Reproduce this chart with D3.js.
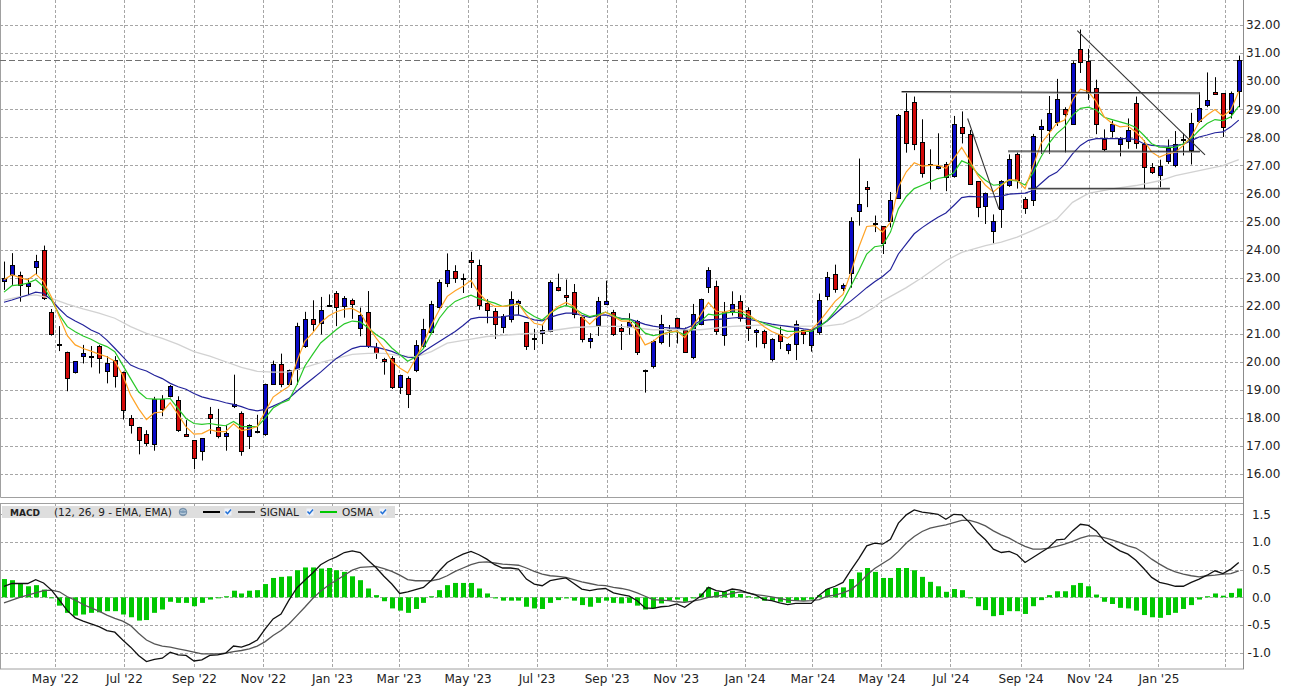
<!DOCTYPE html>
<meta charset="utf-8">
<html>
<head>
<script src="https://cdn.jsdelivr.net/npm/d3@7"></script>
<style>
  body { margin: 0; background: #fff; }
  svg { display: block; font-family: "DejaVu Sans", Verdana, sans-serif; }
</style>
</head>
<body>
<svg id="chart" width="1289" height="694"></svg>
<script>
// weekly bars, first bar week of 17 Mar 2022
var startDate = new Date(2022, 2, 17);

var opens = [22.86,23.10,23.10,22.68,23.37,23.99,21.79,20.62,20.36,19.64,
  20.20,20.18,20.56,19.67,20.06,19.65,18.00,17.68,17.44,17.06,
  18.67,18.77,18.63,17.44,17.20,16.81,18.14,17.69,17.38,18.43,
  18.17,17.33,17.50,17.45,19.22,19.93,19.20,19.72,20.59,21.54,
  21.36,21.99,22.44,22.01,22.19,21.17,21.78,20.52,20.10,20.14,
  19.12,19.42,19.72,20.58,21.08,21.95,22.81,23.25,22.92,23.64,
  23.46,22.11,21.82,21.24,21.52,22.07,21.40,20.81,21.05,21.08,
  22.65,22.39,22.47,21.61,20.71,21.31,22.05,21.78,21.22,21.22,
  21.46,19.67,19.86,20.72,21.18,21.57,21.14,20.16,21.37,22.68,
  22.71,20.96,21.79,22.17,21.85,21.06,21.10,20.10,20.98,20.42,
  20.63,21.14,20.60,21.06,22.32,23.12,22.62,23.18,25.37,26.22,
  24.95,24.83,25.03,25.85,28.92,29.27,27.82,27.06,26.91,27.06,
  26.61,28.35,28.10,26.43,25.55,24.65,25.42,26.29,27.39,25.81,
  25.75,28.31,28.25,28.53,29.00,28.49,31.15,30.73,29.77,27.95,
  28.22,27.75,27.87,29.21,27.77,26.93,26.63,27.15,27.02,27.92,
  27.53,28.55,29.15,29.63,29.57,28.87,29.63];

var highs = [23.57,23.87,23.21,22.98,23.81,24.14,21.88,21.27,20.36,20.02,
  20.60,20.56,20.60,20.20,20.20,19.65,18.10,17.68,17.56,18.75,
  18.81,19.17,18.77,17.92,17.20,17.27,18.39,18.32,17.75,19.54,
  18.23,17.77,18.11,19.22,20.04,20.29,19.72,21.39,21.78,22.19,
  22.31,22.40,22.52,22.34,22.25,21.93,22.52,20.67,20.14,20.20,
  19.54,19.48,20.77,21.53,22.17,22.93,23.86,23.44,23.14,23.92,
  23.64,22.23,21.91,21.70,22.51,22.21,21.40,21.17,21.31,22.90,
  23.14,22.93,22.77,21.61,21.02,22.31,22.89,21.85,21.34,21.73,
  21.49,19.72,20.78,21.67,21.31,21.57,21.22,22.06,22.25,23.37,
  22.89,22.13,22.51,22.37,21.94,21.17,21.14,20.84,21.26,20.66,
  21.47,21.14,21.17,22.43,23.20,23.46,22.79,25.15,27.24,26.44,
  25.21,24.83,26.05,28.83,29.57,29.45,28.64,27.57,28.14,27.12,
  28.76,28.92,28.26,26.43,26.03,25.25,26.47,27.39,27.46,25.87,
  28.12,28.63,29.47,30.08,29.07,30.71,31.84,31.15,30.05,28.28,
  28.59,28.01,28.67,29.45,27.89,27.08,27.20,27.92,28.22,28.13,
  28.87,29.59,30.31,30.14,29.57,29.63,30.91];

var lows = [22.56,22.74,22.14,22.38,23.10,22.20,20.93,20.38,18.95,19.58,
  19.94,19.80,19.58,19.23,19.08,17.94,17.44,16.70,17.00,16.83,
  18.06,18.73,17.50,17.36,16.17,16.48,17.43,17.27,16.83,18.35,
  16.65,16.89,17.45,17.36,19.18,19.09,19.15,19.18,20.49,21.09,
  20.97,21.95,21.27,21.57,21.53,20.91,20.49,20.10,19.54,19.03,
  18.85,18.35,19.63,20.48,21.02,21.89,22.66,22.81,22.45,22.63,
  21.85,21.37,20.81,21.02,21.40,21.67,20.42,20.42,20.63,21.05,
  22.51,22.00,21.55,20.69,20.48,20.92,22.03,20.92,20.42,20.96,
  20.24,18.90,19.76,20.62,20.53,20.65,20.36,20.09,21.30,22.45,
  20.96,20.57,21.65,21.43,20.74,20.51,20.48,20.01,20.45,20.27,
  20.06,20.63,20.36,20.96,22.19,22.46,22.52,22.64,24.85,25.51,
  24.62,23.84,24.79,25.81,27.45,27.54,26.56,26.14,26.85,26.08,
  26.56,27.78,26.31,25.15,24.91,24.22,24.77,26.23,26.17,25.27,
  25.55,27.41,27.41,28.40,27.45,28.47,30.29,29.33,28.11,27.51,
  27.99,27.32,27.59,27.59,26.16,26.69,26.22,27.05,26.93,27.35,
  27.03,28.51,29.07,29.55,28.01,28.67,29.07];

var closes = [22.98,23.45,22.74,22.80,23.60,22.29,21.01,20.65,19.43,20.02,
  20.32,20.22,20.15,19.96,19.49,18.30,17.76,17.20,17.12,18.67,
  18.33,19.14,17.55,17.36,16.55,17.27,17.98,17.36,17.47,18.50,
  16.82,17.73,17.55,19.22,19.93,19.22,19.69,21.27,21.54,21.36,
  21.83,22.01,21.95,22.28,22.05,21.65,20.58,20.31,20.02,19.10,
  19.54,18.86,20.61,21.17,22.07,22.84,23.28,23.01,22.97,23.56,
  22.03,21.85,21.37,21.64,22.25,22.15,20.56,20.86,21.14,22.83,
  22.54,22.32,21.67,20.81,20.83,22.17,22.15,20.99,21.10,21.40,
  20.35,19.72,20.74,21.35,21.14,21.26,20.36,21.71,22.25,23.28,
  21.10,21.79,22.07,21.55,21.22,21.14,20.68,20.82,20.74,20.63,
  21.35,20.99,21.17,22.21,23.01,22.58,22.74,25.03,25.63,26.16,
  24.90,24.23,25.77,28.80,27.78,27.78,26.71,27.01,26.97,26.59,
  28.47,28.14,26.32,25.49,26.03,25.00,26.43,27.21,26.47,25.49,
  28.03,28.40,28.85,29.35,28.83,30.65,30.68,29.59,28.49,27.59,
  28.46,27.92,28.25,27.77,26.96,26.75,26.96,27.62,27.77,27.87,
  28.49,29.03,29.33,29.57,28.35,29.59,30.74];

// moving averages
var maOrange = [22.92,23.10,23.00,22.92,23.13,22.86,22.30,21.60,20.93,20.60,
  20.47,20.38,20.27,20.18,20.02,19.52,18.81,18.33,17.94,18.18,
  18.21,18.54,18.12,17.68,17.42,17.44,17.58,17.51,17.51,17.79,
  17.55,17.60,17.69,18.23,18.74,18.94,19.12,20.02,20.73,21.03,
  21.39,21.63,21.78,21.87,21.90,21.75,21.27,20.85,20.49,20.02,
  19.78,19.60,20.10,20.66,21.31,21.85,22.33,22.53,22.69,22.90,
  22.45,22.15,21.97,21.97,22.00,22.07,21.67,21.37,21.31,21.73,
  21.97,22.11,21.97,21.61,21.34,21.61,21.77,21.61,21.45,21.46,
  21.08,20.60,20.72,20.96,21.05,21.10,20.86,21.26,21.67,22.11,
  21.79,21.77,21.85,21.85,21.70,21.49,21.26,21.08,20.96,20.84,
  21.05,21.08,21.14,21.43,21.79,22.15,22.40,23.18,24.08,24.82,
  24.85,24.62,24.97,26.23,26.77,27.09,26.97,27.00,27.00,26.89,
  27.24,27.64,27.18,26.65,26.29,26.05,26.29,26.49,26.47,26.17,
  26.95,27.77,28.13,28.49,28.61,29.33,29.71,29.63,29.27,28.73,
  28.49,28.37,28.40,28.19,27.89,27.47,27.29,27.41,27.47,27.71,
  28.01,28.55,28.79,28.99,28.75,28.97,29.63];

var maGreen = [22.48,22.71,22.74,22.80,22.92,22.68,22.20,21.67,21.25,21.07,
  20.92,20.80,20.65,20.54,20.36,19.88,19.40,18.93,18.69,18.67,
  18.67,18.69,18.33,17.98,17.80,17.77,17.80,17.75,17.72,17.87,
  17.69,17.69,17.69,17.99,18.35,18.52,18.64,19.18,19.84,20.26,
  20.67,20.91,21.15,21.35,21.45,21.42,21.21,20.97,20.79,20.49,
  20.26,20.02,20.17,20.48,21.02,21.55,21.91,22.15,22.27,22.37,
  22.25,22.17,22.09,21.97,22.03,22.05,21.79,21.61,21.49,21.73,
  21.91,22.01,21.91,21.73,21.61,21.67,21.77,21.65,21.51,21.53,
  21.31,21.02,20.93,20.98,21.05,21.08,20.96,21.17,21.43,21.70,
  21.65,21.73,21.77,21.75,21.61,21.49,21.37,21.26,21.17,21.08,
  21.08,21.08,21.08,21.26,21.47,21.80,22.17,22.70,23.24,23.84,
  24.10,24.14,24.62,25.45,25.89,26.17,26.29,26.41,26.53,26.59,
  26.73,27.16,27.04,26.71,26.47,26.29,26.32,26.47,26.44,26.30,
  26.73,27.29,27.77,28.13,28.37,28.79,29.03,29.07,28.97,28.71,
  28.63,28.55,28.47,28.35,28.07,27.77,27.65,27.63,27.65,27.77,
  27.95,28.25,28.49,28.63,28.59,28.73,29.11];

var maNavy = [22.12,22.20,22.29,22.38,22.48,22.44,22.20,21.88,21.61,21.45,
  21.31,21.13,21.01,20.77,20.48,20.18,19.88,19.76,19.67,19.52,
  19.40,19.23,19.11,19.02,18.87,18.75,18.68,18.62,18.54,18.48,
  18.40,18.30,18.25,18.30,18.42,18.55,18.70,18.95,19.18,19.40,
  19.63,19.88,20.12,20.30,20.47,20.55,20.55,20.52,20.45,20.37,
  20.25,20.16,20.15,20.36,20.54,20.72,20.90,21.08,21.29,21.53,
  21.58,21.58,21.58,21.60,21.65,21.67,21.58,21.49,21.46,21.58,
  21.67,21.73,21.73,21.65,21.58,21.65,21.67,21.60,21.55,21.52,
  21.43,21.33,21.27,21.23,21.21,21.20,21.17,21.30,21.46,21.49,
  21.51,21.53,21.56,21.58,21.52,21.46,21.40,21.34,21.30,21.26,
  21.22,21.17,21.14,21.26,21.45,21.70,21.95,22.17,22.40,22.64,
  22.85,23.04,23.28,23.84,24.20,24.56,24.78,24.97,25.15,25.30,
  25.57,25.85,25.89,25.88,25.87,25.88,25.90,25.97,25.99,26.01,
  26.10,26.35,26.60,26.75,27.03,27.41,27.71,27.89,27.95,27.95,
  27.95,27.95,27.95,27.92,27.77,27.71,27.69,27.68,27.71,27.75,
  27.88,28.01,28.08,28.16,28.19,28.37,28.61];

// long average, read at [bar, value] points
var maGray = [[0,22.20],[2,22.32],[4,22.38],[6,22.26],[8,22.05],[10,21.88],[12,21.73],
  [14,21.55],[16,21.25],[18,21.01],[20,20.83],[22,20.62],[24,20.36],[26,20.20],[28,20.00],
  [30,19.80],[32,19.66],[34,19.63],[36,19.64],[38,19.80],[40,19.97],[42,20.12],[44,20.26],
  [46,20.30],[48,20.30],[50,20.22],[52,20.17],[54,20.36],[56,20.66],[59,20.81],[61,20.90],
  [65,20.98],[67,21.02],[70,21.14],[72,21.22],[75,21.26],[78,21.26],[82,21.14],[88,21.14],
  [92,21.26],[96,21.31],[100,21.26],[104,21.28],[106,21.35],[108,21.60],[110,21.95],
  [111,22.17],[114,22.64],[116,23.00],[119,23.60],[121,23.90],[124,24.14],[126,24.26],
  [128,24.44],[130,24.68],[133,25.08],[135,25.68],[137,26.00],[140,26.16],[143,26.28],
  [146,26.45],[148,26.63],[151,26.81],[154,26.99],[156,27.20]];

var macdLine = [0.20,0.25,0.25,0.25,0.32,0.26,0.13,-0.05,-0.24,-0.37,
  -0.43,-0.48,-0.53,-0.60,-0.63,-0.77,-0.90,-1.05,-1.16,-1.12,
  -1.10,-0.99,-1.04,-1.05,-1.15,-1.13,-1.05,-1.04,-1.01,-0.88,
  -0.90,-0.85,-0.77,-0.57,-0.39,-0.30,-0.05,0.17,0.31,0.44,
  0.59,0.67,0.73,0.81,0.84,0.81,0.67,0.54,0.38,0.24,
  0.07,0.10,0.14,0.18,0.31,0.48,0.63,0.71,0.78,0.83,
  0.77,0.69,0.59,0.53,0.53,0.51,0.33,0.24,0.21,0.30,
  0.33,0.35,0.25,0.15,0.12,0.15,0.16,0.08,0.05,0.02,
  -0.06,-0.19,-0.20,-0.17,-0.16,-0.12,-0.18,-0.08,0.02,0.18,
  0.12,0.10,0.15,0.13,0.08,0.04,-0.04,-0.06,-0.10,-0.13,
  -0.11,-0.11,-0.11,0.04,0.15,0.20,0.27,0.49,0.70,0.93,
  0.98,0.96,1.05,1.34,1.49,1.58,1.54,1.52,1.50,1.41,
  1.50,1.49,1.35,1.17,1.04,0.87,0.81,0.83,0.77,0.63,
  0.72,0.81,0.90,1.04,1.05,1.20,1.32,1.30,1.20,1.02,
  0.93,0.84,0.78,0.67,0.52,0.36,0.27,0.24,0.20,0.20,
  0.27,0.33,0.40,0.48,0.43,0.51,0.63];

var signalLine = [-0.10,-0.05,0.00,0.04,0.08,0.12,0.13,0.10,0.01,-0.05,
  -0.13,-0.19,-0.25,-0.32,-0.38,-0.43,-0.51,-0.65,-0.77,-0.84,
  -0.88,-0.90,-0.93,-0.96,-0.99,-1.02,-1.02,-1.02,-1.01,-0.98,
  -0.96,-0.93,-0.88,-0.80,-0.69,-0.60,-0.48,-0.33,-0.18,-0.02,
  0.11,0.22,0.31,0.40,0.49,0.54,0.55,0.56,0.52,0.47,
  0.40,0.32,0.30,0.30,0.30,0.33,0.39,0.47,0.53,0.59,
  0.63,0.64,0.62,0.60,0.59,0.58,0.53,0.47,0.42,0.39,
  0.38,0.36,0.32,0.28,0.25,0.22,0.21,0.18,0.16,0.13,
  0.08,0.02,-0.04,-0.05,-0.06,-0.08,-0.09,-0.07,-0.04,0.00,
  0.02,0.04,0.07,0.10,0.08,0.05,0.03,0.01,-0.02,-0.05,
  -0.06,-0.07,-0.06,-0.04,0.02,0.04,0.08,0.14,0.25,0.40,
  0.52,0.61,0.70,0.83,0.98,1.10,1.19,1.25,1.28,1.31,
  1.35,1.39,1.39,1.35,1.29,1.20,1.13,1.07,0.99,0.92,
  0.87,0.87,0.89,0.92,0.96,1.01,1.07,1.11,1.11,1.08,
  1.04,0.99,0.93,0.89,0.80,0.69,0.60,0.52,0.46,0.42,
  0.39,0.37,0.39,0.40,0.42,0.43,0.48];

var osmaBars = [0.33,0.31,0.25,0.20,0.22,0.14,-0.01,-0.15,-0.28,-0.33,
  -0.31,-0.28,-0.27,-0.25,-0.25,-0.31,-0.36,-0.42,-0.41,-0.28,
  -0.22,-0.08,-0.10,-0.10,-0.16,-0.10,-0.04,-0.01,0.02,0.12,
  0.07,0.12,0.13,0.24,0.35,0.37,0.38,0.49,0.54,0.54,
  0.52,0.53,0.49,0.46,0.38,0.31,0.16,0.04,-0.07,-0.20,
  -0.24,-0.28,-0.21,-0.10,0.02,0.13,0.22,0.26,0.26,0.26,
  0.16,0.07,-0.02,-0.06,-0.06,-0.06,-0.17,-0.20,-0.21,-0.10,
  -0.05,-0.02,-0.06,-0.14,-0.17,-0.10,-0.06,-0.10,-0.11,-0.10,
  -0.15,-0.22,-0.20,-0.11,-0.06,-0.04,-0.08,-0.02,0.07,0.18,
  0.10,0.10,0.12,0.06,0.02,-0.02,-0.06,-0.06,-0.08,-0.10,
  -0.06,-0.06,-0.04,0.04,0.15,0.17,0.18,0.33,0.45,0.53,
  0.46,0.35,0.35,0.53,0.53,0.49,0.37,0.28,0.20,0.10,
  0.15,0.13,0.00,-0.16,-0.23,-0.34,-0.32,-0.25,-0.25,-0.30,
  -0.16,-0.05,0.04,0.11,0.11,0.22,0.26,0.20,0.05,-0.08,
  -0.12,-0.19,-0.20,-0.24,-0.32,-0.36,-0.37,-0.32,-0.28,-0.21,
  -0.14,-0.04,0.02,0.07,0.03,0.08,0.16];

var priceTicks = [16,17,18,19,20,21,22,23,24,25,26,27,28,29,30,31,32];
var macdTicks = [-1.0,-0.5,0.0,0.5,1.0,1.5];
var lastPrice = 30.74;

// drawn trend lines: [bar from, price from, bar to, price to]
var trendLines = [[135.6,31.80,151.74,27.37],[121.75,28.67,125.7,25.44]];
var levelLines = [[113.4,29.63,151.1,29.58],[126.85,27.51,151.1,27.50],[129.4,26.18,147.3,26.18]];

var plotRight = 1243;
var gridColor = "#a6a6a6";
var frameColor = "#a0a0a0";

var svg = d3.select("#chart");
svg.append("rect").attr("width",1289).attr("height",694).attr("fill","#fff");

var n = closes.length;
function barDate(f) { return new Date(startDate.getTime() + f * 7 * 864e5); }
var dates = d3.range(n).map(function(i) { return d3.timeDay.offset(startDate, 7 * i); });

var x = d3.scaleTime()
  .domain([dates[0], dates[n - 1]])
  .range([4, 4 + 7.915 * (n - 1)]);
var y = d3.scaleLinear().domain([16, 32]).range([474, 25]);
var ym = d3.scaleLinear().domain([-1, 1.5]).range([652.7, 514.3]);

function cx(i) { return Math.round(x(dates[i])); }

var defs = svg.append("defs");
defs.append("clipPath").attr("id","priceClip").append("rect")
  .attr("x",0).attr("y",0).attr("width",plotRight).attr("height",497);
defs.append("clipPath").attr("id","macdClip").append("rect")
  .attr("x",0).attr("y",504).attr("width",plotRight).attr("height",165);

// grid
var monthTicks = x.ticks(d3.timeMonth.every(2));
var grid = svg.append("g").attr("stroke", gridColor).attr("stroke-dasharray","3,2").attr("stroke-width",1);
monthTicks.forEach(function(t) {
  var gx = Math.round(x(t)) + 0.5;
  grid.append("line").attr("x1",gx).attr("x2",gx).attr("y1",0).attr("y2",497);
  grid.append("line").attr("x1",gx).attr("x2",gx).attr("y1",504).attr("y2",669);
});
priceTicks.forEach(function(p) {
  var gy = Math.round(y(p)) + 0.5;
  grid.append("line").attr("x1",0).attr("x2",plotRight).attr("y1",gy).attr("y2",gy);
});
macdTicks.forEach(function(v) {
  var gy = Math.round(ym(v)) + 0.5;
  grid.append("line").attr("x1",0).attr("x2",plotRight).attr("y1",gy).attr("y2",gy);
});

// frames
svg.append("path")
  .attr("d","M0.5,0 V497.5 H" + (plotRight + 0.5) + " V0")
  .attr("fill","none").attr("stroke",frameColor);
svg.append("rect")
  .attr("x",0.5).attr("y",503.5).attr("width",plotRight).attr("height",165.5)
  .attr("fill","none").attr("stroke",frameColor);

// last price
svg.append("line")
  .attr("x1",0).attr("x2",plotRight)
  .attr("y1",Math.round(y(lastPrice)) + 0.5).attr("y2",Math.round(y(lastPrice)) + 0.5)
  .attr("stroke","#707070").attr("stroke-dasharray","6,3");

// candles
var priceG = svg.append("g").attr("clip-path","url(#priceClip)");
var candle = priceG.append("g").selectAll("g").data(d3.range(n)).join("g");
candle.append("line")
  .attr("x1", function(i) { return cx(i) + 0.5; })
  .attr("x2", function(i) { return cx(i) + 0.5; })
  .attr("y1", function(i) { return y(highs[i]); })
  .attr("y2", function(i) { return y(lows[i]); })
  .attr("stroke","#000").attr("stroke-width",1);
candle.append("rect")
  .attr("x", function(i) { return cx(i) - 1.5; })
  .attr("width", 4)
  .attr("y", function(i) { return Math.round(y(Math.max(opens[i], closes[i]))) + 0.5; })
  .attr("height", function(i) { return Math.max(1, Math.round(Math.abs(y(opens[i]) - y(closes[i])))); })
  .attr("fill", function(i) { return closes[i] >= opens[i] ? "#0a0ac8" : "#d20a0a"; })
  .attr("stroke","#000").attr("stroke-width",1);

// moving averages
var maLine = d3.line().x(function(v, i) { return x(dates[i]); }).y(function(v) { return y(v); });
var pairLine = d3.line().x(function(d) { return x(barDate(d[0])); }).y(function(d) { return y(d[1]); });
priceG.append("path").attr("d", pairLine(maGray)).attr("fill","none").attr("stroke","#d2d2d2").attr("stroke-width",1.3);
priceG.append("path").attr("d", maLine(maNavy)).attr("fill","none").attr("stroke","#23239b").attr("stroke-width",1.2);
priceG.append("path").attr("d", maLine(maGreen)).attr("fill","none").attr("stroke","#28c828").attr("stroke-width",1.2);
priceG.append("path").attr("d", maLine(maOrange)).attr("fill","none").attr("stroke","#ffa326").attr("stroke-width",1.2);

// drawn lines
levelLines.forEach(function(l) {
  var x1 = x(barDate(l[0])), x2 = x(barDate(l[2]));
  priceG.append("line").attr("x1",x1).attr("x2",x2)
    .attr("y1",y(l[1]) + 1).attr("y2",y(l[3]) + 1).attr("stroke","#9a9a9a");
  priceG.append("line").attr("x1",x1).attr("x2",x2)
    .attr("y1",y(l[1])).attr("y2",y(l[3])).attr("stroke","#222");
});
trendLines.forEach(function(l) {
  priceG.append("line")
    .attr("x1",x(barDate(l[0]))).attr("x2",x(barDate(l[2])))
    .attr("y1",y(l[1])).attr("y2",y(l[3]))
    .attr("stroke","#333").attr("stroke-width",1.1);
});

// MACD panel
var macdG = svg.append("g").attr("clip-path","url(#macdClip)");
macdG.append("g").selectAll("rect").data(d3.range(n)).join("rect")
  .attr("x", function(i) { return cx(i) - 2; })
  .attr("width", 5)
  .attr("y", function(i) { return Math.min(ym(0), ym(osmaBars[i])); })
  .attr("height", function(i) { return Math.max(1, Math.abs(ym(osmaBars[i]) - ym(0))); })
  .attr("fill","#00c800");
var mLine = d3.line().x(function(v, i) { return x(dates[i]); }).y(function(v) { return ym(v); });
macdG.append("path").attr("d", mLine(signalLine)).attr("fill","none").attr("stroke","#555").attr("stroke-width",1.3);
macdG.append("path").attr("d", mLine(macdLine)).attr("fill","none").attr("stroke","#111").attr("stroke-width",1.3);

// right axis line
svg.append("line").attr("x1",plotRight + 0.5).attr("x2",plotRight + 0.5)
  .attr("y1",0).attr("y2",669).attr("stroke","#8c8c8c");

// price labels
var priceAxis = svg.append("g").attr("transform","translate(1246,0)")
  .call(d3.axisRight(y).tickValues(priceTicks).tickSize(0).tickPadding(0)
    .tickFormat(function(d) { return d.toFixed(2); }));
priceAxis.select(".domain").remove();
priceAxis.selectAll("text").attr("font-size",12).attr("font-family","DejaVu Sans").attr("fill","#222");

// MACD labels
var macdAxis = svg.append("g").attr("transform","translate(1271,0)")
  .call(d3.axisLeft(ym).tickValues(macdTicks).tickSize(0).tickPadding(0)
    .tickFormat(function(d) { return d.toFixed(1); }));
macdAxis.select(".domain").remove();
macdAxis.selectAll("text").attr("font-size",12).attr("font-family","DejaVu Sans").attr("fill","#222");

// time labels
var timeAxis = svg.append("g").attr("transform","translate(0,670)")
  .call(d3.axisBottom(x)
    .tickValues(monthTicks.filter(function(t) { return x(t) < 1200; }))
    .tickSize(0).tickPadding(4)
    .tickFormat(d3.timeFormat("%b '%y")));
timeAxis.select(".domain").remove();
timeAxis.selectAll("text").attr("font-size",12).attr("font-family","DejaVu Sans").attr("fill","#222");

// MACD legend strip
var leg = svg.append("g").attr("font-family","DejaVu Sans").attr("fill","#222");
leg.append("rect").attr("x",2).attr("y",506).attr("width",393).attr("height",12).attr("fill","#dedede");
leg.append("text").attr("x",10).attr("y",516).attr("font-size",9).attr("font-weight","bold").text("MACD");
leg.append("text").attr("x",54).attr("y",516).attr("font-size",10.5).text("(12, 26, 9 - EMA, EMA)");
leg.append("circle").attr("cx",183).attr("cy",512).attr("r",3.8).attr("fill","#7d9cb8").attr("stroke","#5a7690").attr("stroke-width",0.6);
leg.append("path").attr("d","M180.5,510.5 q2.5,-1.5 5,0 M180,513 q3,1.5 6,0").attr("stroke","#d8e4ee").attr("stroke-width",0.7).attr("fill","none");

function checkBox(cxp) {
  leg.append("rect").attr("x",cxp - 3.5).attr("y",508.5).attr("width",7).attr("height",7).attr("fill","#eef2fa");
  leg.append("path").attr("d","M" + (cxp - 2.5) + ",511.5 l2,2.2 l3.5,-4.2")
    .attr("stroke","#1f6fd6").attr("stroke-width",1.5).attr("fill","none");
}
leg.append("line").attr("x1",203).attr("x2",220).attr("y1",512).attr("y2",512).attr("stroke","#000").attr("stroke-width",2);
checkBox(228);
leg.append("line").attr("x1",238).attr("x2",255).attr("y1",512).attr("y2",512).attr("stroke","#444").attr("stroke-width",2);
leg.append("text").attr("x",260).attr("y",516).attr("font-size",10.5).text("SIGNAL");
checkBox(310);
leg.append("line").attr("x1",320).attr("x2",337).attr("y1",512).attr("y2",512).attr("stroke","#00c800").attr("stroke-width",2);
leg.append("text").attr("x",342).attr("y",516).attr("font-size",10.5).text("OSMA");
checkBox(383);
</script>
</body>
</html>
